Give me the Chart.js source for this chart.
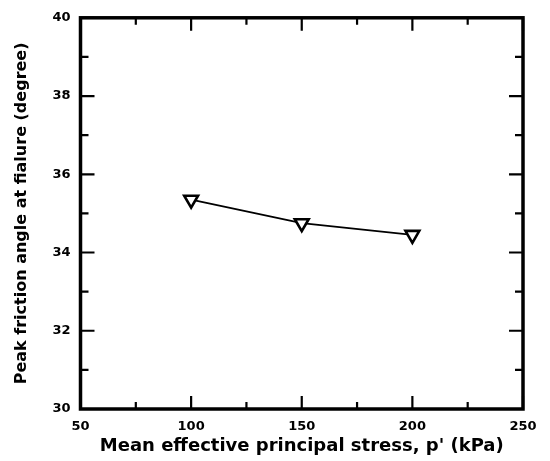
<!DOCTYPE html>
<html>
<head>
<meta charset="utf-8">
<script src="https://cdn.jsdelivr.net/npm/chart.js@4.4.0/dist/chart.umd.min.js"></script>
<style>
  html, body { margin: 0; padding: 0; background: #fff; }
  #wrap { width: 550px; height: 461px; }
</style>
</head>
<body>
<div id="wrap"><canvas id="frictionChart" width="550" height="461"></canvas></div>
<script>
// Ângulo de atrito de pico x tensão efetiva média
const stressKPa = [100, 150, 200];
const peakAngle = [35.35, 34.75, 34.45];
const xTickValues = [50, 100, 150, 200, 250];
const yTickValues = [30, 32, 34, 36, 38, 40];

const FONT = 'DejaVu Sans, Liberation Sans, Arial, sans-serif';

// Moldura com marcas de escala para dentro nos quatro lados
const frameTicks = {
  id: 'frameTicks',
  beforeDatasetsDraw(chart) {
    const { ctx, chartArea: a, scales: { x, y } } = chart;
    ctx.save();
    ctx.strokeStyle = '#000';
    ctx.lineCap = 'butt';

    ctx.lineWidth = 2.2;
    for (let v = 50; v <= 250; v += 25) {
      const px = x.getPixelForValue(v);
      const len = v % 50 === 0 ? 13 : 7;
      ctx.beginPath();
      ctx.moveTo(px, a.bottom); ctx.lineTo(px, a.bottom - len);
      ctx.moveTo(px, a.top); ctx.lineTo(px, a.top + len);
      ctx.stroke();
    }
    for (let v = 30; v <= 40; v += 1) {
      const py = y.getPixelForValue(v);
      const len = v % 2 === 0 ? 14 : 8;
      ctx.beginPath();
      ctx.moveTo(a.left, py); ctx.lineTo(a.left + len, py);
      ctx.moveTo(a.right, py); ctx.lineTo(a.right - len, py);
      ctx.stroke();
    }

    ctx.lineWidth = 3.5;
    ctx.strokeRect(a.left, a.top, a.right - a.left, a.bottom - a.top);
    ctx.restore();
  }
};

new Chart(document.getElementById('frictionChart'), {
  type: 'scatter',
  data: {
    datasets: [{
      data: stressKPa.map((s, i) => ({ x: s, y: peakAngle[i] })),
      showLine: true,
      borderColor: '#000',
      borderWidth: 1.8,
      pointStyle: 'triangle',
      rotation: 180,
      pointRadius: 8,
      pointBorderWidth: 2.6,
      pointBackgroundColor: '#fff',
      pointBorderColor: '#000'
    }]
  },
  options: {
    responsive: false,
    animation: false,
    layout: { padding: { left: 0, top: 13.5, right: 27, bottom: 0 } },
    plugins: { legend: { display: false }, tooltip: { enabled: false } },
    scales: {
      x: {
        type: 'linear',
        min: 50,
        max: 250,
        afterBuildTicks: (s) => { s.ticks = xTickValues.map(v => ({ value: v })); },
        afterFit: (s) => { s.height = 52; },
        grid: { display: false, drawTicks: false },
        border: { display: false },
        ticks: { padding: 10, color: '#000', maxRotation: 0, font: { family: FONT, size: 13, weight: 'bold' } },
        title: {
          display: true,
          text: "Mean effective principal stress, p' (kPa)",
          color: '#000',
          padding: { top: 0, bottom: 4 },
          font: { family: FONT, size: 18, weight: 'bold' }
        }
      },
      y: {
        min: 30,
        max: 40,
        afterBuildTicks: (s) => { s.ticks = yTickValues.map(v => ({ value: v })); },
        afterFit: (s) => { s.width = 80.5; },
        grid: { display: false, drawTicks: false },
        border: { display: false },
        ticks: { padding: 10, color: '#000', font: { family: FONT, size: 13, weight: 'bold' } },
        title: {
          display: true,
          text: 'Peak friction angle at fialure (degree)',
          color: '#000',
          padding: { top: 12, bottom: 0 },
          font: { family: FONT, size: 16, weight: 'bold' }
        }
      }
    }
  },
  plugins: [frameTicks]
});
</script>
</body>
</html>
